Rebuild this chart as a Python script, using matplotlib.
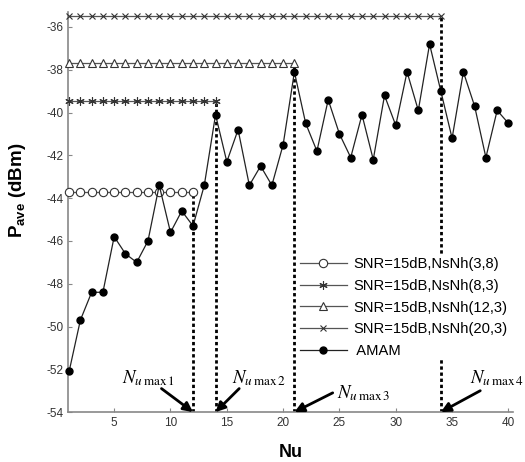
import matplotlib
matplotlib.use("Agg")
import matplotlib.pyplot as plt

plt.rcParams["font.family"] = ["Liberation Sans", "DejaVu Sans"]
plt.rcParams["mathtext.fontset"] = "custom"
plt.rcParams["mathtext.rm"] = "Liberation Sans"
plt.rcParams["mathtext.bf"] = "Liberation Sans:bold"
plt.rcParams["axes.unicode_minus"] = False

# data
nu = list(range(1, 41))
amam = [-52.1, -49.7, -48.4, -48.4, -45.8, -46.6, -47.0, -46.0, -43.4, -45.6,
        -44.6, -45.3, -43.4, -40.1, -42.3, -40.8, -43.4, -42.5, -43.4, -41.5,
        -38.1, -40.5, -41.8, -39.4, -41.0, -42.1, -40.1, -42.2, -39.2, -40.6,
        -38.1, -39.9, -36.8, -39.0, -41.2, -38.1, -39.7, -42.1, -39.9, -40.5]

labels = ["SNR=15dB,NsNh(3,8)", "SNR=15dB,NsNh(8,3)",
          "SNR=15dB,NsNh(12,3)", "SNR=15dB,NsNh(20,3)"]
nu_max = [12, 14, 21, 34]
levels = [-43.7, -39.45, -37.7, -35.5]
markers = ["o", (6, 2, 0), "^", "x"]
arrow_from = [(9.2, -52.9), (16.1, -52.9), (24.4, -53.1), (37.5, -53.0)]
text_at = [(5.7, -52.4), (15.5, -52.4), (24.8, -53.1), (36.6, -52.4)]

fig = plt.figure(figsize=(5.25, 4.62), dpi=100)
ax = fig.add_axes([0.1295, 0.108, 0.8475, 0.866])

line_col = "#555555"
for lab, n, lev, m in zip(labels, nu_max, levels, markers):
    xs = list(range(1, n + 1))
    ax.plot(xs, [lev] * len(xs), color=line_col, lw=0.9, marker=m,
            markersize=6 if m != "x" else 5, mfc="white", mec="#333333",
            mew=0.8, label=lab, clip_on=False, zorder=3)
    ax.vlines(n, -54, lev, colors="k", linestyles=(0, (1.2, 1.0)), lw=2.0, zorder=2)

ax.plot(nu, amam, color="#222222", lw=0.9, marker="o", markersize=5,
        mfc="black", mec="black", label=" AMAM", clip_on=False, zorder=4)

for i, n in enumerate(nu_max):
    ax.annotate("", xy=(n, -54), xytext=arrow_from[i],
                arrowprops=dict(arrowstyle="-|>", color="black", lw=2.0,
                                mutation_scale=14, shrinkA=0, shrinkB=0),
                annotation_clip=False, zorder=5)
    ax.text(text_at[i][0], text_at[i][1],
            r"$N_{u\,\mathrm{max}\,%d}$" % (i + 1), math_fontfamily="stix",
            fontsize=13.5, va="center", ha="left", clip_on=False)

ax.set_xlim(0.9, 40.4)
ax.set_ylim(-54, -35.3)
ax.set_xticks([5, 10, 15, 20, 25, 30, 35, 40])
ax.set_yticks(list(range(-54, -35, 2)))
for side in ["top", "right"]:
    ax.spines[side].set_visible(False)
for side in ["left", "bottom"]:
    ax.spines[side].set_color("#888888")
    ax.spines[side].set_linewidth(1.2)
ax.tick_params(direction="in", length=3, color="#888888", labelsize=8.5,
               labelcolor="#333333")

ax.set_xlabel("Nu", fontsize=13, fontweight="bold", labelpad=11)
ax.set_ylabel(r"$\mathbf{P_{ave}}$ (dBm)", fontsize=13.5, fontweight="bold")
ax.yaxis.set_label_coords(-0.09, 0.555)

leg = ax.legend(loc="lower left", bbox_to_anchor=(0.518, 0.131), fontsize=10.6,
                handlelength=3.2, handletextpad=0.4, labelspacing=0.53,
                frameon=True, framealpha=1, borderpad=0.1, borderaxespad=0)
leg.get_frame().set_edgecolor("white")
leg.get_frame().set_linewidth(0)

fig.savefig("out.png", dpi=100)
